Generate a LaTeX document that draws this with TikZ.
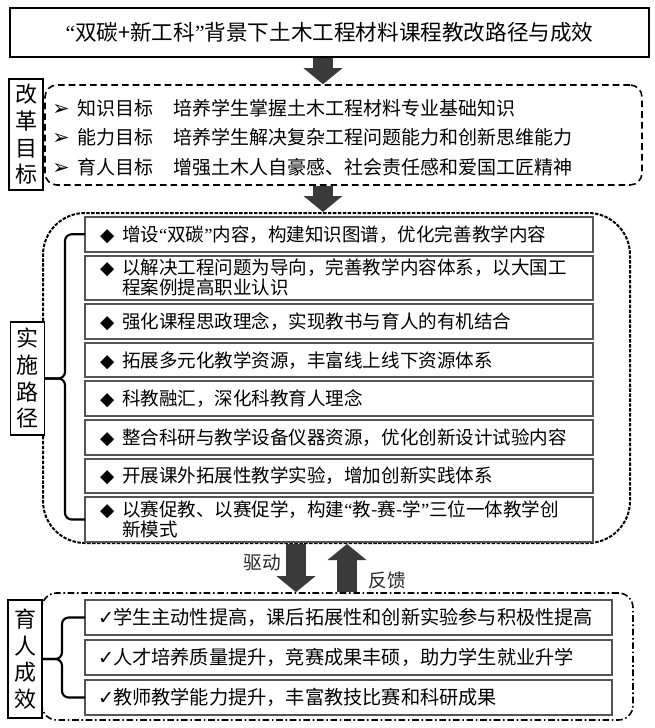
\documentclass[tikz,border=0pt]{standalone}
\usepackage{fontspec}
\setmainfont{Noto Sans CJK SC}
\newfontfamily\symf{DejaVu Sans}
\newfontfamily\quotef{Liberation Serif}
\usetikzlibrary{positioning, arrows.meta}
\definecolor{arrowgray}{RGB}{58,58,58}
\definecolor{boxgray}{RGB}{85,85,85}

\newcommand\dia{\makebox[16.5pt][l]{\symf ◆}}
\newcommand\chk{\makebox[11.25pt][l]{\symf ✓}}
\newcommand\oq{{\quotef “}}
\newcommand\cq{{\quotef ”}}
\newcommand\goalitem[2]{\makebox[18.75pt][l]{\symf\fontsize{15.5pt}{17pt}\selectfont ➢}\makebox[72pt][l]{#1}#2}

\tikzset{
  titlebox/.style={draw, line width=1.5pt, minimum width=479.25pt, minimum height=36.75pt,
    font=\fontsize{16.2pt}{19pt}\selectfont},
  goalframe/.style={draw, line width=1.2pt, dash pattern=on 5pt off 3pt, rounded corners=9pt},
  pathframe/.style={draw, line width=1.5pt, dash pattern=on 2.6pt off 1.1pt, rounded corners=31.5pt},
  effectframe/.style={draw, line width=1.2pt, dash pattern=on 5pt off 2pt on 1.2pt off 2pt, rounded corners=11pt},
  sidelabel/.style={draw, fill=white, line width=1.1pt, minimum width=25.5pt, align=center,
    inner xsep=2pt, font=\fontsize{16.5pt}{20pt}\selectfont},
  goalrow/.style={anchor=west, inner sep=0pt, font=\fontsize{14.25pt}{17pt}\selectfont},
  pathbox/.style={draw=boxgray, fill=white, line width=1.5pt, outer sep=0pt, anchor=north west, align=left,
    inner xsep=11.25pt, inner ysep=2pt, text width=358.5pt, minimum height=25.95pt,
    text height=12pt, text depth=1.5pt, font=\fontsize{13.9pt}{15pt}\selectfont},
  twoline/.style={minimum height=33.45pt, text depth=16.5pt},
  effectbox/.style={draw=boxgray, fill=white, line width=1.5pt, outer sep=0pt, anchor=north west, align=left,
    inner xsep=9.75pt, inner ysep=2pt, text width=375.75pt, minimum height=26.25pt,
    text height=12.4pt, text depth=1.5pt, font=\fontsize{14.4pt}{17pt}\selectfont},
  brace/.style={draw, line width=1.6pt, rounded corners=5pt},
  bigarrow/.style={draw=arrowgray, line width=14.5pt, -{Triangle[width=28.5pt,length=12pt]}},
  note/.style={font=\fontsize{14pt}{17pt}\selectfont, text=black!85}
}

\begin{document}
\begin{tikzpicture}[x=0.75pt, y=-0.75pt]
\useasboundingbox (0,0) rectangle (654,728);
\coordinate (mid) at (323,0);
\coordinate (down) at (296,0);
\coordinate (up) at (347,0);

% title
\node[titlebox] (title) at (329.5,32.5) {\oq 双碳+新工科\cq 背景下土木工程材料课程教改路径与成效};

% frames
\node[goalframe, minimum width=447.75pt, minimum height=75pt] (goals) at (343.5,135) {};
\node[pathframe, minimum width=440.25pt, minimum height=247.5pt] (impl) at (336.5,378) {};
\node[effectframe, minimum width=443.25pt, minimum height=95.25pt] (effects) at (337.5,656.5) {};

% side labels
\node[sidelabel, minimum height=83.25pt] (goallab) at (26,134.5) {改\\革\\目\\标};
\node[sidelabel, minimum height=84.75pt] (impllab) at (27.5,378.5) {实\\施\\路\\径};
\node[sidelabel, minimum height=88.5pt] (efflab) at (25,659) {育\\人\\成\\效};

% goals
\node[goalrow] (g1) at (52,108) {\goalitem{知识目标}{培养学生掌握土木工程材料专业基础知识}};
\node[goalrow] (g2) at (52,137.5) {\goalitem{能力目标}{培养学生解决复杂工程问题能力和创新思维能力}};
\node[goalrow] (g3) at (52,167) {\goalitem{育人目标}{增强土木人自豪感、社会责任感和爱国工匠精神}};

% implementation paths
\node[pathbox] (p1) at (85,217) {\dia 增设\oq 双碳\cq 内容，构建知识图谱，优化完善教学内容};
\node[pathbox, twoline, below=3pt of p1] (p2) {\dia 以解决工程问题为导向，完善教学内容体系，以大国工\\\hspace*{16.5pt}程案例提高职业认识};
\node[pathbox, below=3pt of p2] (p3) {\dia 强化课程思政理念，实现教书与育人的有机结合};
\node[pathbox, below=3pt of p3] (p4) {\dia 拓展多元化教学资源，丰富线上线下资源体系};
\node[pathbox, below=3pt of p4] (p5) {\dia 科教融汇，深化科教育人理念};
\node[pathbox, below=3pt of p5] (p6) {\dia 整合科研与教学设备仪器资源，优化创新设计试验内容};
\node[pathbox, below=3pt of p6] (p7) {\dia 开展课外拓展性教学实验，增加创新实践体系};
\node[pathbox, twoline, below=3pt of p7] (p8) {\dia \mbox{以赛促教、以赛促学，构建\oq 教-赛-学\cq 三位一体教学创}\\\hspace*{16.5pt}新模式};

% results
\node[effectbox] (e1) at (85,600) {\chk 学生主动性提高，课后拓展性和创新实验参与积极性提高};
\node[effectbox, below=3.75pt of e1] (e2) {\chk 人才培养质量提升，竞赛成果丰硕，助力学生就业升学};
\node[effectbox, below=3.75pt of e2] (e3) {\chk 教师教学能力提升，丰富教技比赛和科研成果};

% braces
\draw[brace] (p1.west) -- ++(-20,0) |- (impllab.east);
\draw[brace] (p8.west) -- ++(-20,0) |- (impllab.east);
\draw[brace] (e1.west) -- ++(-23,0) |- (efflab.east);
\draw[brace] (e3.west) -- ++(-23,0) |- (efflab.east);

% arrows
\draw[bigarrow] (title.south -| mid) -- (goals.north -| mid);
\draw[bigarrow] (goals.south -| mid) -- (impl.north -| mid);
\draw[bigarrow] (impl.south -| down) -- (effects.north -| down);
\draw[bigarrow] (effects.north -| up) -- (impl.south -| up);
\node[note] (drive) at (262,563) {驱动};
\node[note] (feedback) at (387,580) {反馈};
\end{tikzpicture}
\end{document}
